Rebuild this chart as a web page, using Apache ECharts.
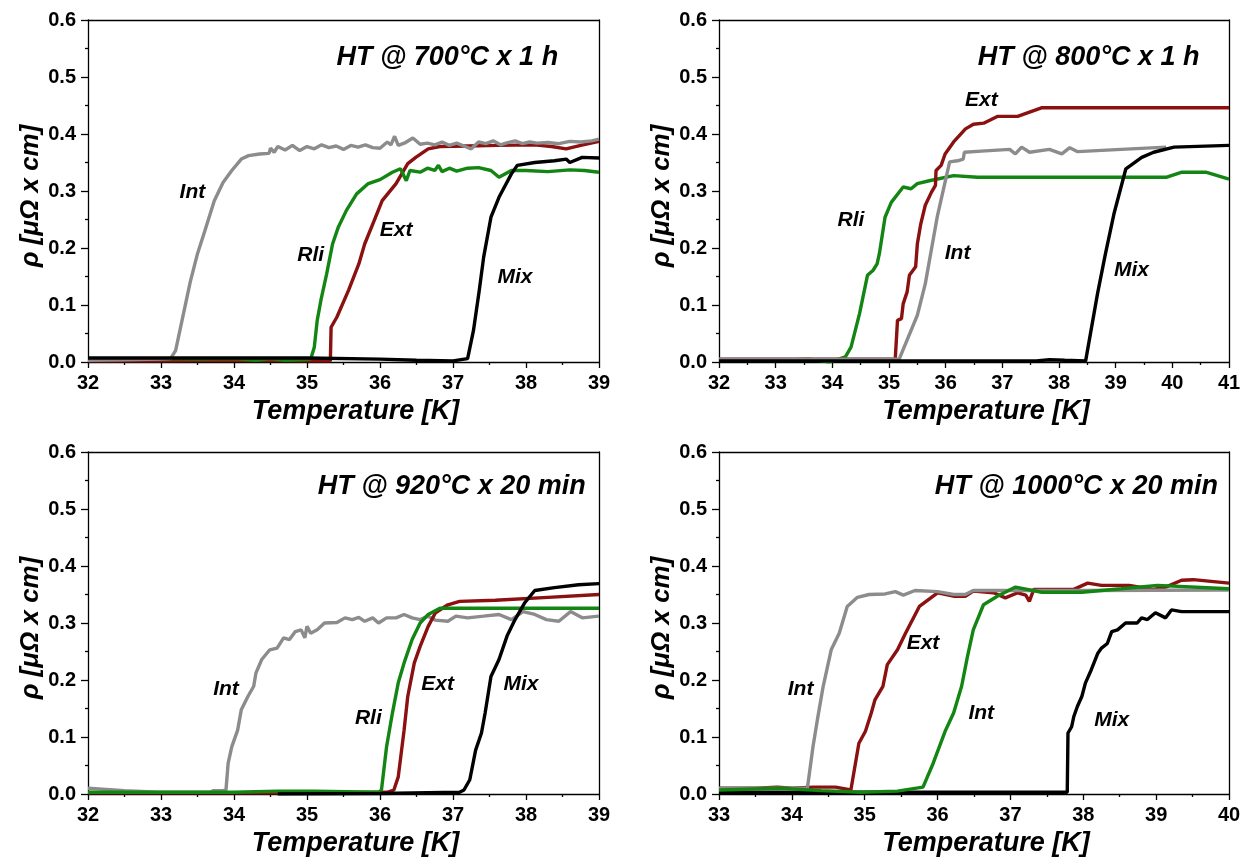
<!DOCTYPE html>
<html><head><meta charset="utf-8">
<script src="https://cdn.jsdelivr.net/npm/echarts@6/dist/echarts.min.js"></script>
<style>html,body{margin:0;padding:0;background:#fff}#c{width:1249px;height:867px}</style>
</head><body><div id="c"></div>
<script>
// ---------- DATA ----------
const panelTitles = ['HT @ 700°C x 1 h', 'HT @ 800°C x 1 h', 'HT @ 920°C x 20 min', 'HT @ 1000°C x 20 min'];
const xRanges = [[32, 39], [32, 41], [32, 39], [33, 40]];
const titlePos = [[38.44, 0.535], [40.48, 0.535], [38.82, 0.539], [39.85, 0.539]];

// Panel 1: 700°C x 1 h
const p1Int = [[32,0.003],[32.5,0.004],[33,0.005],[33.13,0.006],[33.2,0.02],[33.3,0.08],[33.4,0.14],[33.5,0.19],[33.6,0.23],[33.73,0.283],[33.85,0.315],[33.97,0.336],[34.1,0.356],[34.2,0.362],[34.35,0.365],[34.48,0.366],[34.5,0.375],[34.55,0.368],[34.6,0.378],[34.7,0.372],[34.8,0.38],[34.9,0.371],[35.0,0.378],[35.1,0.374],[35.2,0.381],[35.3,0.376],[35.4,0.379],[35.5,0.373],[35.6,0.38],[35.7,0.377],[35.8,0.381],[35.9,0.376],[36.0,0.375],[36.1,0.386],[36.15,0.381],[36.2,0.396],[36.25,0.38],[36.35,0.385],[36.45,0.393],[36.55,0.382],[36.65,0.384],[36.75,0.381],[36.85,0.386],[36.95,0.38],[37.05,0.384],[37.15,0.379],[37.25,0.374],[37.35,0.386],[37.45,0.383],[37.55,0.388],[37.65,0.381],[37.75,0.385],[37.85,0.388],[37.95,0.383],[38.05,0.386],[38.15,0.384],[38.3,0.385],[38.45,0.383],[38.6,0.387],[38.75,0.386],[38.9,0.388],[39,0.391]];
const p1Ext = [[32,0.002],[33,0.002],[34,0.003],[35,0.002],[35.32,0.002],[35.33,0.061],[35.41,0.079],[35.57,0.126],[35.71,0.172],[35.79,0.207],[35.92,0.248],[36.03,0.283],[36.22,0.313],[36.38,0.348],[36.49,0.359],[36.66,0.374],[36.82,0.378],[37.2,0.379],[37.6,0.38],[38.12,0.381],[38.35,0.378],[38.55,0.374],[38.75,0.38],[39,0.387]];
const p1Rli = [[32,0.005],[32.5,0.005],[33,0.006],[33.5,0.005],[34,0.006],[34.3,0.003],[34.5,0.006],[34.7,0.003],[34.9,0.004],[35.05,0.005],[35.1,0.026],[35.14,0.073],[35.19,0.108],[35.27,0.155],[35.35,0.207],[35.43,0.237],[35.54,0.266],[35.68,0.295],[35.84,0.313],[36.0,0.32],[36.17,0.333],[36.28,0.339],[36.36,0.318],[36.41,0.336],[36.55,0.333],[36.65,0.34],[36.75,0.336],[36.8,0.345],[36.85,0.334],[36.95,0.34],[37.05,0.335],[37.2,0.34],[37.35,0.341],[37.52,0.336],[37.63,0.324],[37.8,0.336],[38.0,0.336],[38.3,0.334],[38.6,0.337],[38.8,0.336],[39,0.333]];
const p1Mix = [[32,0.007],[33,0.007],[34,0.007],[35,0.007],[36,0.005],[36.5,0.003],[37.0,0.002],[37.2,0.006],[37.28,0.055],[37.36,0.126],[37.42,0.184],[37.52,0.254],[37.63,0.289],[37.8,0.33],[37.88,0.345],[38.12,0.35],[38.39,0.353],[38.55,0.356],[38.6,0.35],[38.77,0.359],[39,0.358]];
const labels1 = [['Int',33.43,0.298],['Rli',35.05,0.187],['Ext',36.22,0.231],['Mix',37.85,0.149]];

// Panel 2: 800°C x 1 h
const p2Rli = [[32,0.003],[33,0.003],[33.6,0.005],[33.95,0.0],[34.23,0.009],[34.33,0.026],[34.48,0.085],[34.62,0.152],[34.72,0.161],[34.79,0.172],[34.83,0.19],[34.93,0.254],[35.04,0.28],[35.25,0.307],[35.39,0.304],[35.5,0.313],[35.71,0.318],[36.14,0.327],[36.56,0.324],[38,0.324],[39.89,0.324],[40.17,0.333],[40.59,0.333],[41,0.321]];
const p2Ext = [[32,0.005],[34,0.005],[35.11,0.005],[35.15,0.073],[35.22,0.076],[35.25,0.102],[35.32,0.123],[35.36,0.152],[35.47,0.167],[35.5,0.207],[35.56,0.242],[35.64,0.275],[35.75,0.298],[35.82,0.31],[35.83,0.336],[35.92,0.345],[35.99,0.365],[36.14,0.386],[36.35,0.409],[36.49,0.417],[36.67,0.419],[36.92,0.431],[37.27,0.431],[37.69,0.446],[39,0.446],[41,0.446]];
const p2Int = [[32,0.005],[34,0.005],[35.18,0.005],[35.5,0.082],[35.64,0.137],[35.85,0.254],[36.07,0.351],[36.21,0.353],[36.31,0.356],[36.33,0.368],[36.63,0.37],[37.13,0.373],[37.23,0.365],[37.34,0.377],[37.48,0.368],[37.83,0.373],[38.05,0.365],[38.19,0.376],[38.33,0.369],[39.1,0.373],[39.89,0.377]];
const p2Mix = [[32,0.002],[34,0.002],[36,0.002],[37.6,0.002],[37.83,0.004],[38.1,0.003],[38.47,0.002],[38.68,0.12],[38.82,0.19],[38.97,0.26],[39.18,0.339],[39.46,0.359],[39.67,0.368],[40.03,0.377],[41,0.38]];
const labels2 = [['Ext',36.63,0.459],['Rli',34.33,0.248],['Int',36.21,0.19],['Mix',39.28,0.161]];

// Panel 3: 920°C x 20 min
const p3Int = [[32,0.01],[32.5,0.006],[32.97,0.003],[33.67,0.003],[33.72,0.006],[33.85,0.006],[33.89,0.007],[33.92,0.054],[33.97,0.083],[34.05,0.112],[34.1,0.148],[34.19,0.171],[34.27,0.189],[34.3,0.212],[34.38,0.236],[34.49,0.253],[34.59,0.256],[34.68,0.274],[34.76,0.271],[34.84,0.285],[34.92,0.288],[34.97,0.274],[35.0,0.294],[35.05,0.282],[35.14,0.288],[35.24,0.3],[35.41,0.301],[35.52,0.309],[35.62,0.306],[35.71,0.31],[35.79,0.303],[35.9,0.309],[35.98,0.3],[36.09,0.309],[36.22,0.309],[36.33,0.315],[36.44,0.309],[36.55,0.306],[36.66,0.312],[36.76,0.305],[36.93,0.303],[37.04,0.312],[37.2,0.309],[37.42,0.312],[37.63,0.315],[37.8,0.306],[37.96,0.32],[38.12,0.315],[38.28,0.306],[38.45,0.303],[38.61,0.32],[38.77,0.309],[39,0.312]];
const p3Rli = [[32,0.003],[34,0.003],[34.6,0.005],[35.1,0.005],[35.98,0.003],[36.02,0.007],[36.09,0.083],[36.17,0.142],[36.25,0.195],[36.33,0.23],[36.44,0.271],[36.55,0.3],[36.66,0.315],[36.82,0.326],[38,0.326],[39,0.326]];
const p3Ext = [[32,0.002],[35,0.002],[36.1,0.003],[36.19,0.007],[36.25,0.03],[36.33,0.112],[36.38,0.171],[36.47,0.23],[36.55,0.259],[36.66,0.294],[36.76,0.318],[36.93,0.332],[37.09,0.338],[37.58,0.34],[38.3,0.345],[39,0.35]];
const p3Mix = [[34.6,0.0],[36,0.001],[37.09,0.003],[37.15,0.007],[37.23,0.025],[37.31,0.077],[37.39,0.107],[37.44,0.142],[37.52,0.206],[37.63,0.236],[37.74,0.277],[37.85,0.306],[37.98,0.335],[38.12,0.357],[38.39,0.362],[38.72,0.367],[39,0.369]];
const labels3 = [['Int',33.89,0.183],['Rli',35.84,0.133],['Ext',36.79,0.192],['Mix',37.93,0.192]];

// Panel 4: 1000°C x 20 min
const p4Int = [[33,0.01],[33.5,0.01],[34.18,0.01],[34.21,0.007],[34.29,0.083],[34.35,0.13],[34.43,0.189],[34.54,0.253],[34.65,0.282],[34.76,0.329],[34.9,0.345],[35.06,0.35],[35.28,0.351],[35.42,0.355],[35.53,0.349],[35.69,0.357],[36.0,0.355],[36.22,0.35],[36.38,0.35],[36.49,0.357],[38,0.357],[40,0.358]];
const p4Ext = [[33,0.01],[33.5,0.01],[33.8,0.012],[34.0,0.01],[34.3,0.012],[34.6,0.012],[34.81,0.007],[34.92,0.089],[35.01,0.11],[35.09,0.142],[35.14,0.165],[35.25,0.189],[35.31,0.227],[35.45,0.253],[35.56,0.282],[35.75,0.329],[36.0,0.353],[36.22,0.347],[36.38,0.347],[36.49,0.356],[36.77,0.353],[36.93,0.344],[37.1,0.353],[37.21,0.349],[37.26,0.338],[37.32,0.359],[37.87,0.359],[38.06,0.37],[38.25,0.366],[38.63,0.366],[38.96,0.359],[39.13,0.363],[39.35,0.375],[39.51,0.376],[40,0.37]];
const p4Int2 = [[33,0.007],[33.85,0.01],[34.4,0.006],[34.95,0.003],[35.45,0.005],[35.8,0.012],[35.94,0.054],[36.11,0.112],[36.22,0.142],[36.33,0.189],[36.41,0.241],[36.49,0.288],[36.63,0.332],[36.82,0.347],[37.07,0.363],[37.43,0.354],[37.98,0.354],[38.52,0.36],[39.02,0.366],[40,0.36]];
const p4Mix = [[33,0.003],[35,0.003],[37.78,0.003],[37.79,0.107],[37.84,0.118],[37.87,0.136],[37.92,0.154],[37.98,0.171],[38.03,0.195],[38.11,0.218],[38.2,0.247],[38.25,0.256],[38.33,0.264],[38.39,0.285],[38.47,0.288],[38.58,0.3],[38.74,0.3],[38.8,0.309],[38.88,0.306],[38.99,0.318],[39.13,0.309],[39.21,0.323],[39.35,0.32],[40,0.32]];
const labels4 = [['Ext',35.8,0.265],['Int',34.12,0.183],['Int',36.6,0.142],['Mix',38.39,0.13]];

// ---------- STYLE ----------
const C = {gray:'#8c8c8c', red:'#8b1010', green:'#128512', black:'#000000'};
const FONT = "'Liberation Sans', Arial, sans-serif";
const panels = [
  {lines:[[p1Ext,C.red],[p1Rli,C.green],[p1Int,C.gray],[p1Mix,C.black]], labels:labels1},
  {lines:[[p2Rli,C.green],[p2Ext,C.red],[p2Int,C.gray],[p2Mix,C.black]], labels:labels2},
  {lines:[[p3Int,C.gray],[p3Ext,C.red],[p3Rli,C.green],[p3Mix,C.black]], labels:labels3},
  {lines:[[p4Mix,C.black],[p4Ext,C.red],[p4Int,C.gray],[p4Int2,C.green]], labels:labels4}
];
const gridBoxes = [
  {left:88, top:20, width:511, height:342},
  {left:719, top:20, width:510, height:342},
  {left:88, top:452, width:511, height:342},
  {left:719, top:452, width:510, height:342}
];

const grid = [], xAxis = [], yAxis = [], series = [];
const lineStyleAxis = {color:'#000', width:1.3};
const nameBase = {fontFamily:FONT, fontWeight:'bold', fontStyle:'italic', color:'#000'};
const tickLabel = {fontFamily:FONT, fontSize:20, fontWeight:'bold', color:'#000'};
gridBoxes.forEach((g, i) => {
  grid.push(Object.assign({containLabel:false}, g));
  xAxis.push({
    type:'value', gridIndex:i, min:xRanges[i][0], max:xRanges[i][1], interval:1,
    name:'Temperature [K]', nameLocation:'middle', nameGap:36,
    nameTextStyle:Object.assign({fontSize:27, padding:[0,0,0,24]}, nameBase),
    axisLine:{show:true, onZero:false, lineStyle:lineStyleAxis},
    axisTick:{show:true, length:6, lineStyle:lineStyleAxis},
    minorTick:{show:true, splitNumber:2, length:3, lineStyle:lineStyleAxis},
    axisLabel:Object.assign({margin:11}, tickLabel),
    splitLine:{show:false}
  });
  xAxis.push({
    type:'value', gridIndex:i, position:'top', min:xRanges[i][0], max:xRanges[i][1], interval:1,
    axisLine:{show:true, onZero:false, lineStyle:lineStyleAxis},
    axisTick:{show:false}, axisLabel:{show:false}, splitLine:{show:false}
  });
  yAxis.push({
    type:'value', gridIndex:i, min:0, max:0.6, interval:0.1,
    name:'ρ [μΩ x cm]', nameLocation:'middle', nameGap:43,
    nameTextStyle:Object.assign({fontSize:26, padding:[0,10,0,0]}, nameBase),
    axisLine:{show:true, onZero:false, lineStyle:lineStyleAxis},
    axisTick:{show:true, length:7, lineStyle:lineStyleAxis},
    minorTick:{show:true, splitNumber:2, length:3, lineStyle:lineStyleAxis},
    axisLabel:Object.assign({margin:12, formatter:v => v.toFixed(1)}, tickLabel),
    splitLine:{show:false}
  });
  yAxis.push({
    type:'value', gridIndex:i, position:'right', min:0, max:0.6, interval:0.1,
    axisLine:{show:true, onZero:false, lineStyle:lineStyleAxis},
    axisTick:{show:false}, axisLabel:{show:false}, splitLine:{show:false}
  });
  panels[i].lines.forEach(([data, color]) => {
    series.push({
      type:'line', xAxisIndex:2*i, yAxisIndex:2*i, data:data, showSymbol:false, symbol:'none',
      lineStyle:{color:color, width:3.4}, animation:false, clip:true
    });
  });
  series.push({
    type:'scatter', xAxisIndex:2*i, yAxisIndex:2*i, symbolSize:0, animation:false, silent:true,
    itemStyle:{opacity:1},
    data:panels[i].labels.map(l => ({value:[l[1], l[2]], name:l[0]})),
    label:{show:true, position:'inside', formatter:p => p.name, opacity:1,
      fontFamily:FONT, fontSize:21, fontWeight:'bold', fontStyle:'italic', color:'#000'}
  });
  series.push({
    type:'scatter', xAxisIndex:2*i, yAxisIndex:2*i, symbolSize:0, animation:false, silent:true,
    itemStyle:{opacity:1},
    data:[{value:titlePos[i], name:panelTitles[i]}],
    label:{show:true, position:'inside', align:'right', formatter:p => p.name, opacity:1,
      fontFamily:FONT, fontSize:27, fontWeight:'bold', fontStyle:'italic', color:'#000'}
  });
});

const chart = echarts.init(document.getElementById('c'), null, {renderer:'canvas'});
chart.setOption({backgroundColor:'#fff', animation:false, grid, xAxis, yAxis, series});
</script></body></html>
